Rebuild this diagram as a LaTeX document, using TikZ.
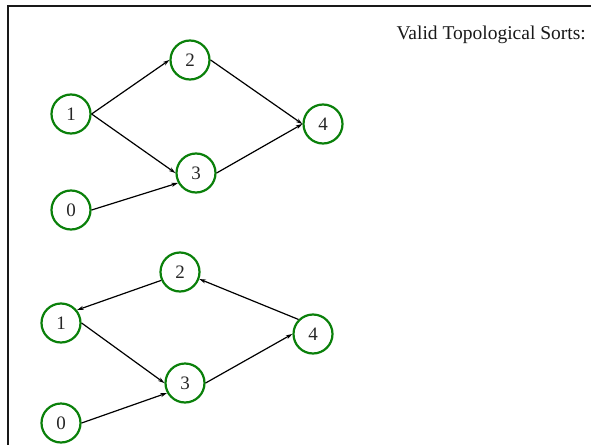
\documentclass[tikz,border=0pt]{standalone}
\usepackage{fontspec}
\setmainfont{Liberation Serif}
\usetikzlibrary{arrows.meta}
\definecolor{nodegreen}{RGB}{10,128,10}
\begin{document}
\begin{tikzpicture}[x=1pt,y=-1pt,
  vert/.style={circle,draw=nodegreen,line width=2.2pt,minimum size=39pt,inner sep=0pt,font=\fontsize{19}{19}\selectfont,text=black!85},
  edge/.style={line width=1.2pt,-{Stealth[length=6.5pt,width=4pt]}},
  frameline/.style={line width=2.6pt,black!90}]
\useasboundingbox (0,0) rectangle (591,444);
\coordinate (ftl) at (8,6);
\coordinate (ftr) at (592,6);
\coordinate (fbl) at (8,446);
\draw[frameline] (ftr) -- (ftl) -- (fbl);
\node[anchor=west,font=\fontsize{19.5}{20}\selectfont,text=black!90] (title) at (393,35) {Valid Topological Sorts:};
% top graph
\node[vert] (a1) at (71,114) {1};
\node[vert] (a2) at (190,60) {2};
\node[vert] (a0) at (71,210) {0};
\node[vert] (a3) at (196,173) {3};
\node[vert] (a4) at (323,124) {4};
\draw[edge] (a1.east) -- (a2.west);
\draw[edge] (a1.east) -- (a3.west);
\draw[edge] (a0.east) -- (a3.209);
\draw[edge] (a2.east) -- (a4.west);
\draw[edge] (a3.east) -- (a4.west);
% bottom graph
\node[vert] (b2) at (180,272) {2};
\node[vert] (b1) at (61,323) {1};
\node[vert] (b3) at (185,383) {3};
\node[vert] (b0) at (61,423) {0};
\node[vert] (b4) at (313,334) {4};
\draw[edge] (b2.204) -- (b1.39);
\draw[edge] (b1.east) -- (b3.west);
\draw[edge] (b0.east) -- (b3.209);
\draw[edge] (b3.east) -- (b4.west);
\draw[edge] (b4.135) -- (b2.-20);
\end{tikzpicture}
\end{document}
